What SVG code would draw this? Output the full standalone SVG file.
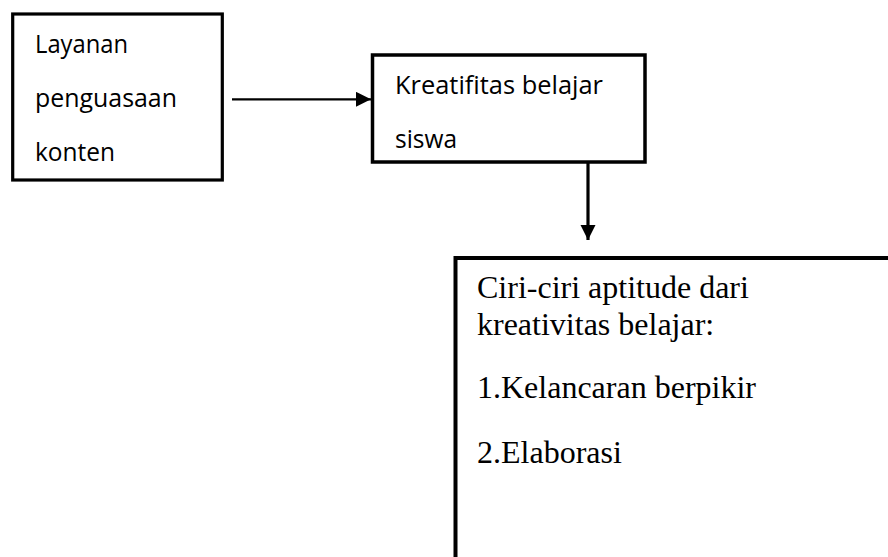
<svg xmlns="http://www.w3.org/2000/svg" width="888" height="557" viewBox="0 0 888 557">
<defs>
<style>
.box{fill:#fff;stroke:#000;}
.cal{font-family:"Open Sans","Noto Sans",sans-serif;font-size:25px;fill:#000;}
.tnr{font-family:"Liberation Serif","Times New Roman",serif;font-size:32px;fill:#000;}
.conn{stroke:#000;fill:none;}
</style>
<marker id="ah" markerUnits="userSpaceOnUse" markerWidth="16" markerHeight="16" refX="15" refY="7.5" orient="auto">
<path d="M0,0 L15,7.5 L0,15 Z" fill="#000"/>
</marker>
</defs>
<rect width="888" height="557" fill="#fff"/>
<g id="node-layanan">
<rect class="box" x="12.7" y="14" width="209.6" height="166" stroke-width="3.2"/>
<text class="cal" x="35" y="53" textLength="93" lengthAdjust="spacingAndGlyphs">Layanan</text>
<text class="cal" x="35" y="107" textLength="142" lengthAdjust="spacingAndGlyphs">penguasaan</text>
<text class="cal" x="35" y="161" textLength="80" lengthAdjust="spacingAndGlyphs">konten</text>
</g>
<g id="node-kreatifitas">
<rect class="box" x="372.5" y="55" width="272.5" height="107" stroke-width="3.5"/>
<text class="cal" x="395" y="94" textLength="208" lengthAdjust="spacingAndGlyphs">Kreatifitas belajar</text>
<text class="cal" x="395" y="148" textLength="62" lengthAdjust="spacingAndGlyphs">siswa</text>
</g>
<g id="node-ciri">
<rect class="box" x="455.5" y="258" width="500" height="400" stroke-width="4"/>
<text class="tnr" x="477" y="298">Ciri-ciri aptitude dari</text>
<text class="tnr" x="477" y="335">kreativitas belajar:</text>
<text class="tnr" x="477" y="398">1.Kelancaran berpikir</text>
<text class="tnr" x="477" y="463">2.Elaborasi</text>
</g>
<g id="connectors">
<line class="conn" x1="232" y1="99.3" x2="371" y2="99.3" stroke-width="2.2" marker-end="url(#ah)"/>
<line class="conn" x1="588" y1="163" x2="588" y2="240" stroke-width="3.2" marker-end="url(#ah)"/>
</g>
</svg>
